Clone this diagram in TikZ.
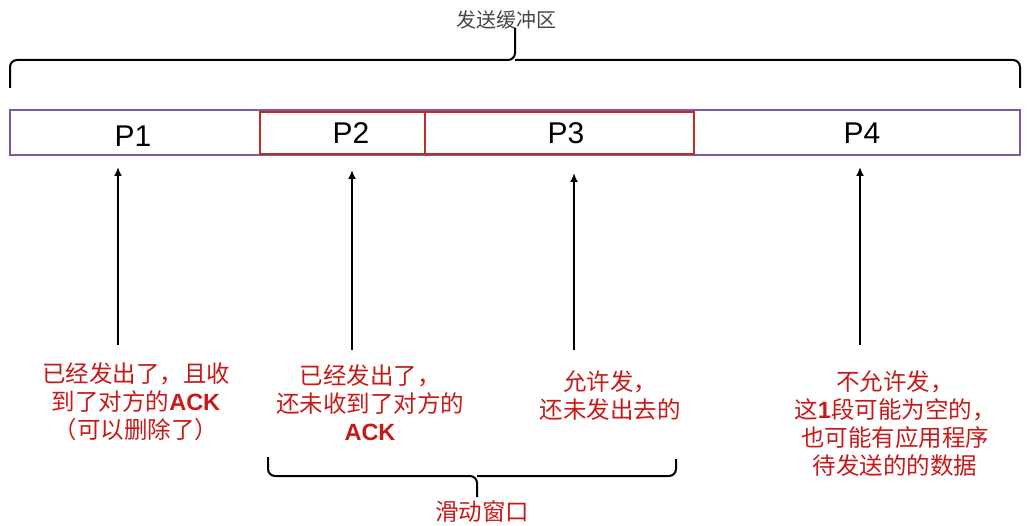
\documentclass[tikz,border=0pt]{standalone}
\usepackage{fontspec}
\setmainfont{Liberation Sans}
\newfontfamily\cjk{Noto Sans CJK SC}
\newfontfamily\lat{Liberation Sans}
\usetikzlibrary{arrows.meta}
\definecolor{txtred}{RGB}{200,25,25}
\definecolor{boxred}{RGB}{190,45,30}
\definecolor{barpurple}{RGB}{128,88,165}
\definecolor{labgray}{RGB}{70,70,70}
\begin{document}
\begin{tikzpicture}[x=1pt,y=-1pt,
 brace/.style={draw=black,line width=2pt,rounded corners=7pt},
 ptr/.style={draw=black,line width=1.9pt,-{Latex[length=9pt,width=8pt]}},
 plabel/.style={font=\fontsize{30}{32}\selectfont,text=black,inner sep=0},
 note/.style={font=\cjk\fontsize{23.5}{28}\selectfont,text=txtred,align=center,inner sep=0},
 barframe/.style={draw=barpurple,line width=2.5pt},
 winframe/.style={draw=boxred,line width=2.8pt},
]
\useasboundingbox (0,0) rectangle (1032,526);
% top brace
\node[font=\cjk\fontsize{20}{22}\selectfont,text=labgray,inner sep=0] (buf) at (506,20) {发送缓冲区};
\draw[brace] (10,88) -- (10,60) -- (515,60) -- (515,28);
\draw[brace] (1020,88) -- (1020,60) -- (515,60);
% bar
\draw[barframe] (10,110) rectangle (1020,155);
\draw[winframe] (260,112) rectangle (694,154);
\draw[winframe] (425,112) -- (425,154);
\node[plabel] (P1) at (133,136) {P1};
\node[plabel] (P2) at (351,133) {P2};
\node[plabel] (P3) at (566,133) {P3};
\node[plabel] (P4) at (862,133) {P4};
% arrows
\coordinate (a1s) at (118,345); \coordinate (a1e) at (118,167);
\coordinate (a2s) at (352,350); \coordinate (a2e) at (352,170);
\coordinate (a3s) at (574,350); \coordinate (a3e) at (574,173);
\coordinate (a4s) at (860,345); \coordinate (a4e) at (860,167);
\draw[ptr] (a1s) -- (a1e);
\draw[ptr] (a2s) -- (a2e);
\draw[ptr] (a3s) -- (a3e);
\draw[ptr] (a4s) -- (a4e);
% notes
\node[note] (n1) at (136,402) {已经发出了，且收\\到了对方的{\lat\bfseries ACK}\\（可以删除了）};
\node[note] (n2) at (370,403) {已经发出了，\\还未收到了对方的\\{\lat\bfseries ACK}};
\node[note] (n3) at (610,396) {允许发，\\还未发出去的};
\node[note] (n4) at (895,424) {不允许发，\\这{\lat\bfseries 1}段可能为空的，\\也可能有应用程序\\待发送的的数据};
% bottom brace
\draw[brace] (268,457) -- (268,476) -- (477,476) -- (477,497);
\draw[brace] (676,459) -- (676,476) -- (477,476);
\node[note] (win) at (482,512) {滑动窗口};
\end{tikzpicture}
\end{document}
